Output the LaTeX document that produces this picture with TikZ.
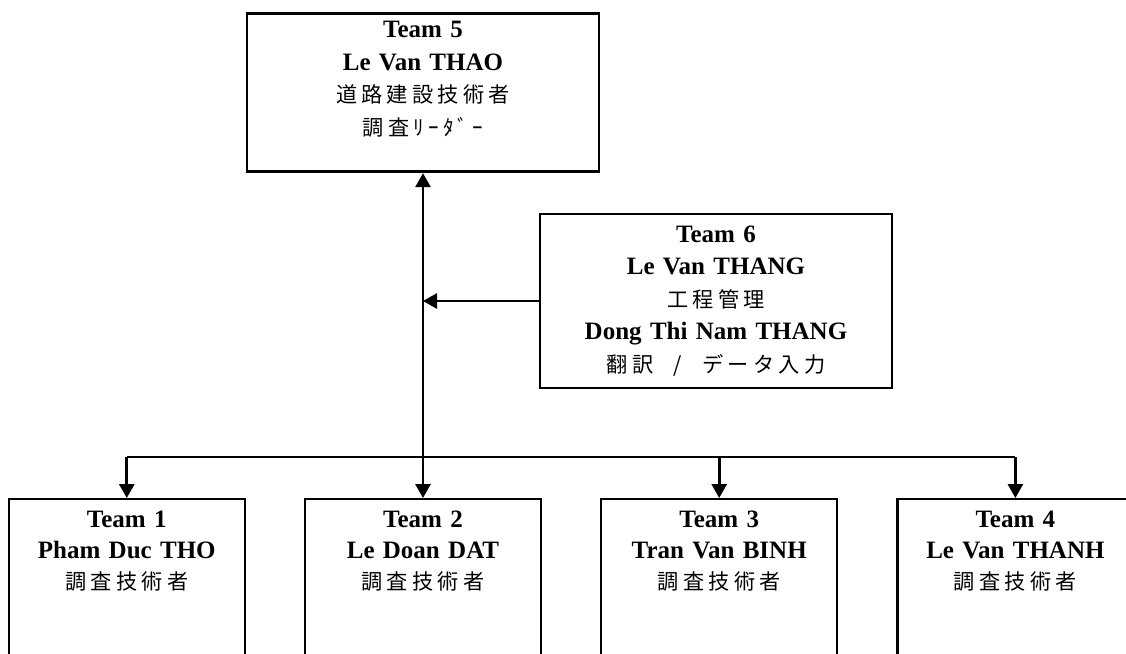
\documentclass[tikz,border=0pt]{standalone}
\usepackage{fontspec}
\setmainfont{Liberation Serif}
\newfontfamily\jpfont[LetterSpace=20]{Noto Sans CJK JP}
\newcommand{\jp}{\jpfont\fontsize{10.6}{10.6}\selectfont}
\usetikzlibrary{arrows.meta,positioning}

\begin{document}
\begin{tikzpicture}[
        x=0.5pt, y=-0.5pt,
        node distance=29pt and 29pt,
        every node/.style={align=center},
        link/.style={line width=1.4pt, -{Triangle[length=7pt,width=7.5pt]}},
        leader/.style={draw, line width=1.4pt, text width=170pt, inner xsep=3pt, inner ysep=4pt,
            anchor=north, text depth=63pt, font=\fontsize{12.5}{16.3}\selectfont},
        support/.style={draw, line width=1.4pt, text width=170pt, inner sep=3pt,
            minimum height=87pt, font=\fontsize{12.5}{16.2}\selectfont},
        teambox/.style={draw, line width=1.1pt, text width=112pt, inner xsep=3pt, inner ysep=6pt,
            anchor=north, text depth=60pt, font=\fontsize{12.5}{15.5}\selectfont}
    ]
    \useasboundingbox (0,0) rectangle (1126,654);

    % Nodes
    \node[leader] (team5) at (423,12) {\textbf{Team 5} \\
        \textbf{Le Van THAO} \\
        {\jp 道路建設技術者} \\
        {\jp 調査ﾘｰﾀﾞｰ}};

    \node[support] (team6) at (716,301) {\textbf{Team 6} \\
        \textbf{Le Van THANG} \\
        {\jp 工程管理} \\
        \textbf{Dong Thi Nam THANG} \\
        {\jp 翻訳\hspace{6pt} / \hspace{6pt}データ入力}};

    \node[teambox] (team2) at (423,498) {\textbf{Team 2} \\
        \textbf{Le Doan DAT} \\
        {\jp 調査技術者}};
    \node[teambox] (team1) [left=of team2] {\textbf{Team 1} \\
        \textbf{Pham Duc THO} \\
        {\jp 調査技術者}};
    \node[teambox] (team3) [right=of team2] {\textbf{Team 3} \\
        \textbf{Tran Van BINH} \\
        {\jp 調査技術者}};
    \node[teambox] (team4) [right=of team3] {\textbf{Team 4} \\
        \textbf{Le Van THANH} \\
        {\jp 調査技術者}};

    \coordinate (bus) at (423,457);

    % Edges
    \draw[link] (bus) -- (team5);
    \draw[link] (team6.west) -- (team6.west -| team5.south);
    \draw[line width=1.4pt] (bus -| team1) -- (bus -| team4);
    \draw[link] (bus -| team1) -- (team1);
    \draw[link] (bus) -- (team2);
    \draw[link] (bus -| team3) -- (team3);
    \draw[link] (bus -| team4) -- (team4);

\end{tikzpicture}
\end{document}
